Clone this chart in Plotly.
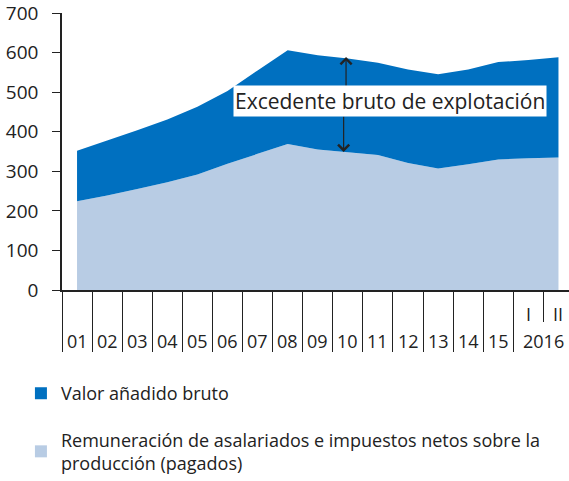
import plotly.graph_objects as go

categories = ["01", "02", "03", "04", "05", "06", "07", "08", "09", "10",
              "11", "12", "13", "14", "15", "I", "II"]
year_labels = ["01", "02", "03", "04", "05", "06", "07", "08", "09", "10",
               "11", "12", "13", "14", "15"]
quarter_labels = ["I", "II"]
last_year_label = "2016"

valor_anadido = [352, 378, 404, 431, 463, 503, 555, 606, 593, 585,
                 574, 557, 545, 557, 576, 581, 588]
remuneracion = [224, 239, 255, 272, 292, 319, 344, 369, 355, 348,
                341, 321, 307, 318, 330, 333, 335]

DARK = "#0070C0"
LIGHT = "#B8CCE4"
TXT = "#222222"
FONT = "Open Sans"

x = list(range(len(categories)))
xr = [-0.5, len(categories) - 0.65]

fig = go.Figure()
fig.add_trace(go.Scatter(x=x, y=remuneracion, mode="none", fill="tozeroy",
                         fillcolor=LIGHT, showlegend=False, hoverinfo="skip"))
fig.add_trace(go.Scatter(x=x, y=valor_anadido, mode="none", fill="tonexty",
                         fillcolor=DARK, showlegend=False, hoverinfo="skip"))

# legend entries
fig.add_trace(go.Scatter(x=[None], y=[None], mode="markers", xaxis="x2",
                         marker=dict(symbol="square", size=12, color=DARK),
                         name="Valor añadido bruto", legendgroup="a"))
fig.add_trace(go.Scatter(x=[None], y=[None], mode="markers", xaxis="x2",
                         marker=dict(symbol="square", size=12, color=LIGHT),
                         name="Remuneración de asalariados e impuestos netos sobre la<br>producción (pagados)",
                         legendgroup="b"))

n_years = len(year_labels)
boundaries = [i - 0.5 for i in range(n_years + 1)]

fig.update_layout(
    xaxis=dict(
        range=xr, automargin=False,
        tickmode="array", tickvals=boundaries, ticktext=[""] * len(boundaries),
        ticks="outside", ticklen=60, tickwidth=1.3, tickcolor=TXT,
        showline=True, linecolor=TXT, linewidth=1.5,
        showgrid=False, zeroline=False, showticklabels=False,
    ),
    xaxis2=dict(
        range=xr, automargin=False, overlaying="x", anchor="y", side="bottom",
        tickmode="array", tickvals=[n_years + 0.5], ticktext=[""],
        ticks="outside", ticklen=31, tickwidth=1.3, tickcolor=TXT,
        showline=False, showgrid=False, zeroline=False, showticklabels=False,
    ),
    yaxis=dict(
        range=[0, 700], automargin=False, tickmode="linear", tick0=0, dtick=100,
        ticks="outside", ticklen=8, tickwidth=1.3, tickcolor=TXT,
        showline=True, linecolor=TXT, linewidth=1.5,
        showgrid=False, zeroline=False, ticklabelstandoff=10,
        ticklabeloverflow="allow",
        tickfont=dict(size=19, color=TXT, family=FONT),
    ),
)

annotations = []
for i, lab in enumerate(year_labels):
    annotations.append(dict(x=i, y=-0.184, xref="x", yref="paper", text=lab,
                            yanchor="middle", showarrow=False,
                            font=dict(size=18, color=TXT, family=FONT)))
for j, lab in enumerate(quarter_labels):
    annotations.append(dict(x=n_years + j, y=-0.087, xref="x", yref="paper", text=lab,
                            yanchor="middle", showarrow=False,
                            font=dict(size=18, color=TXT, family=FONT)))
annotations.append(dict(x=n_years + 0.5, y=-0.184, xref="x", yref="paper",
                        text=last_year_label, yanchor="middle", showarrow=False,
                        font=dict(size=18, color=TXT, family=FONT)))

# arrows
annotations.append(dict(x=8.94, y=589, ax=8.94, ay=510, xref="x", yref="y",
                        axref="x", ayref="y", text="", showarrow=True,
                        arrowhead=4, arrowsize=1.8, arrowwidth=1.2, arrowcolor=TXT))
annotations.append(dict(x=8.86, y=349, ax=8.86, ay=442, xref="x", yref="y",
                        axref="x", ayref="y", text="", showarrow=True,
                        arrowhead=4, arrowsize=1.8, arrowwidth=1.2, arrowcolor=TXT))
annotations.append(dict(x=10.4, y=477, xref="x", yref="y",
                        text="Excedente bruto de explotación", showarrow=False,
                        bgcolor="white", borderpad=1,
                        font=dict(size=21, color=TXT, family=FONT)))

fig.update_layout(
    width=569, height=481,
    margin=dict(l=62, r=0, t=13, b=191, autoexpand=False),
    plot_bgcolor="white", paper_bgcolor="white",
    font=dict(family=FONT, color=TXT),
    annotations=annotations,
    legend=dict(x=-0.081, xanchor="left", y=-0.307, yanchor="top",
                font=dict(size=18, color=TXT, family=FONT),
                tracegroupgap=20, traceorder="grouped",
                bgcolor="rgba(0,0,0,0)"),
)

# remove the default page margin so the figure fills the window exactly
fig.write_html(
    "out.html",
    config={"displayModeBar": False},
    default_width="569px", default_height="481px",
    post_script="document.body.style.margin='0';document.body.style.overflow='hidden';",
)
